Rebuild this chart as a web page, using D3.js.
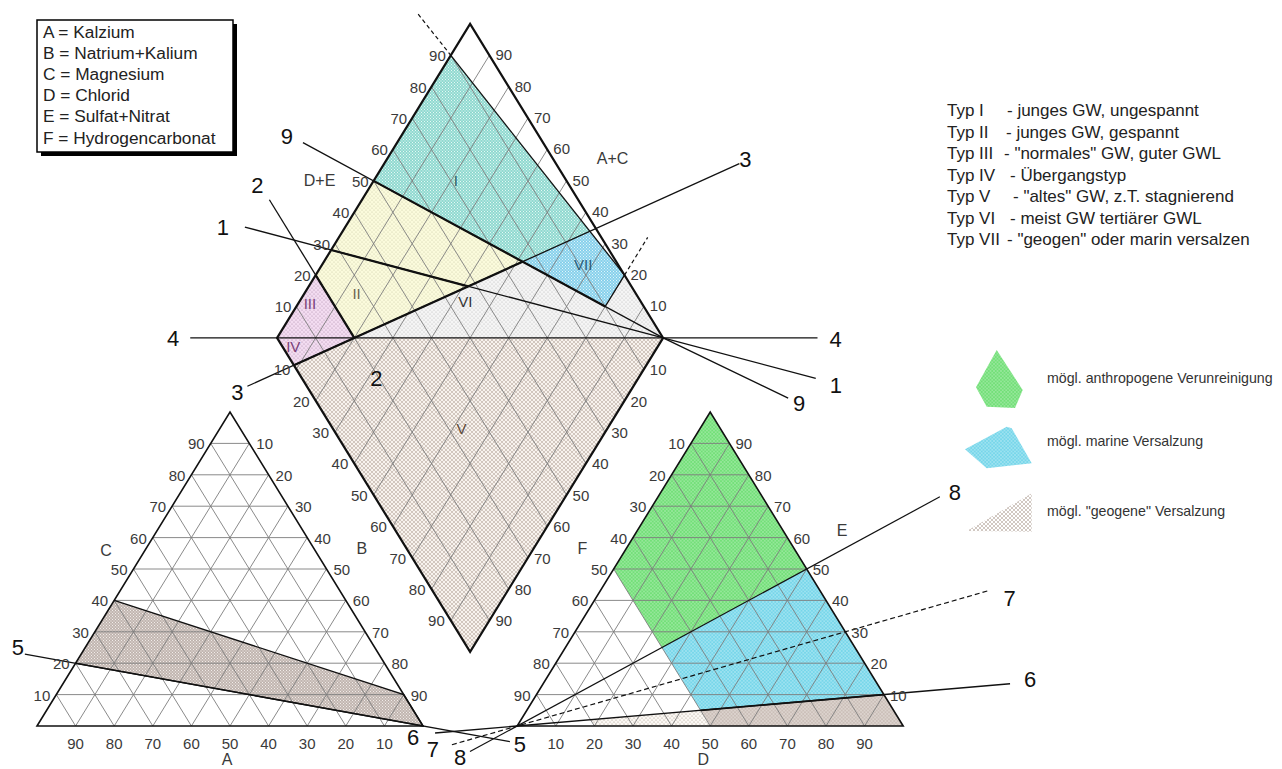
<!DOCTYPE html>
<html>
<head>
<meta charset="utf-8">
<script src="https://cdn.jsdelivr.net/npm/d3@7"></script>
<style>
  body { margin: 0; background: #fff; }
  svg { display: block; }
  text { font-family: "Liberation Sans", Arial, sans-serif; }
</style>
</head>
<body>
<svg id="chart" width="1282" height="769"></svg>
<script>
// ---------- data ----------
const ionNames = ["A = Kalzium", "B = Natrium+Kalium", "C = Magnesium", "D = Chlorid",
                  "E = Sulfat+Nitrat", "F = Hydrogencarbonat"];
const typeNames = ["Typ I", "Typ II", "Typ III", "Typ IV", "Typ V", "Typ VI", "Typ VII"];
const typeDescs = ["- junges GW, ungespannt", "- junges GW, gespannt", '- "normales" GW, guter GWL',
                   "- Übergangstyp", '- "altes" GW, z.T. stagnierend', "- meist GW tertiärer GWL",
                   '- "geogen" oder marin versalzen'];
const areaNames = ["mögl. anthropogene Verunreinigung", "mögl. marine Versalzung", 'mögl. "geogene" Versalzung'];
const ticks = d3.range(10, 100, 10);

// diamond fields, points as [Na+K %, Cl+SO4 %]
const fieldI   = [[0, 50], [0, 90], [64.05, 98], [51.47, 75.73]];
const fieldVII = [[51.47, 75.73], [64.05, 98], [80, 100], [80, 90]];
const fieldII  = [[0, 20], [0, 50], [51.47, 75.73], [20, 20]];
const fieldIII = [[0, 0], [0, 20], [20, 20]];
const fieldIV  = [[0, 0], [20, 20], [8.7, 0]];
const fieldVI  = [[20, 20], [51.47, 75.73], [80, 90], [80, 100], [100, 100]];
const fieldV   = [[8.7, 0], [100, 0], [100, 100], [20, 20]];
const fieldLabels = [["I", 21.3, 71.3], ["II", 13.5, 27.7], ["III", 3, 14], ["IV", 5.6, 2.8],
                     ["V", 62.2, 33.4], ["VI", 43, 54.5], ["VII", 67.7, 90.9]];

// diamond lines
const line1 = [[-26, 9.3], [100, 100], [146, 133.1]];
const line2 = [[-24, 20], [20, 20]];
const line3 = [[0, -15.4], [92, 147.5]];
const line4 = [[-22.5, -22.5], [140, 140]];
const line9 = [[-24.4, 37.8], [100, 100], [142, 122.8]];
const blueTop = [[0, 90], [80, 100]];
const blueTopExt = [[-15, 88.1], [0, 90]];
const sevenEdge = [[80, 90], [80, 100]];
const sevenEdgeExt = [[80, 100], [80, 112]];
const thickSegs = [[[0, 28], [41.3, 57.7]], [[0, 20], [20, 20]], [[8.7, 0], [51.47, 75.73]], [[0, 50], [80, 90]]];

// cation triangle [Ca, Mg, Na+K]
const bandCat = [[60, 40, 0], [0, 10, 90], [0, 0, 100], [80, 20, 0]];
const line5 = [[91.7, 22.9, -14.6], [-20, -5, 125]];

// anion triangle [HCO3, SO4+NO3, Cl]
const areaGreen = [[0, 100, 0], [0, 50, 50], [50, 25, 25], [50, 50, 0]];
const areaMarine = [[50, 25, 25], [0, 50, 50], [0, 10, 90], [50, 5, 45]];
const areaGeo = [[50, 5, 45], [0, 10, 90], [0, 0, 100], [50, 0, 50]];
const areaLight = [[80, 2, 18], [50, 5, 45], [50, 0, 50], [80, 0, 20]];
const line6 = [[122.4, -2.24, -20.16], [-34.4, 13.44, 120.96]];
const line7 = [[119.9, -5.97, -13.93], [-44, 43.2, 100.8]];
const line8 = [[116.3, -8.15, -8.15], [-46, 73, 73]];

// ---------- scales ----------
const svg = d3.select("#chart");
const x = d3.scaleLinear().domain([0, 224.4]).range([37, 903.2]);
const y = d3.scaleLinear().domain([0, 223.6]).range([726, 23.9]);
const GAP = 124.4, DX = 62.2, DY = 123.6;

const cat = ([ca, mg, na]) => [x(na + mg / 2), y(mg)];
const an = ([hc, so, cl]) => [x(GAP + cl + so / 2), y(so)];
const dia = ([n, s]) => [x(DX + (n + s) / 2), y(DY - n + s)];
const path = d3.line();

svg.append("rect").attr("width", 1282).attr("height", 769).attr("fill", "#fff");

// patterns
const defs = svg.append("defs");
function dots(id, bg, dot, step, r) {
  const p = defs.append("pattern").attr("id", id)
    .attr("patternUnits", "userSpaceOnUse").attr("width", step).attr("height", step);
  if (bg) p.append("rect").attr("width", step).attr("height", step).attr("fill", bg);
  [[0, 0], [step, 0], [0, step], [step, step], [step / 2, step / 2]].forEach(([cx, cy]) =>
    p.append("circle").attr("cx", cx).attr("cy", cy).attr("r", r).attr("fill", dot));
}
dots("pI", "#86d6cc", "#e6f8f5", 3, 0.65);
dots("pVII", "#7dcdea", "#e2f5fb", 3, 0.65);
dots("pII", "#fbfbdc", "#c9c7a6", 4, 0.6);
dots("pIII", "#f3dcf1", "#a98aa6", 4, 0.6);
dots("pVI", "#f5f5f5", "#b5b5b5", 4, 0.6);
dots("pV", "#f8f3ee", "#8c7566", 4, 0.65);
dots("pGreen", "#72df78", "#c2f2c4", 3.5, 0.7);
dots("pMarine", "#76d6ea", "#cff2f9", 3.5, 0.7);
dots("pGeo", "#bcb0aa", "#f1ece9", 3, 0.65);
dots("pGeoR", "#cbbfb8", "#f3eeeb", 3.5, 0.7);
dots("pLight", "#fbf8f4", "#a89888", 4, 0.6);
dots("pLegGeo", null, "#8c7566", 4, 0.75);

const fill = (g, pts, f, pat) => g.append("path")
  .attr("d", path(pts.map(f)) + "Z").attr("fill", `url(#${pat})`);

// ---------- fills ----------
const gFill = svg.append("g");
fill(gFill, fieldV, dia, "pV");
fill(gFill, fieldVI, dia, "pVI");
fill(gFill, fieldII, dia, "pII");
fill(gFill, fieldIII, dia, "pIII");
fill(gFill, fieldIV, dia, "pIII");
fill(gFill, fieldI, dia, "pI");
fill(gFill, fieldVII, dia, "pVII");
fill(gFill, bandCat, cat, "pGeo");
fill(gFill, areaGreen, an, "pGreen");
fill(gFill, areaMarine, an, "pMarine");
fill(gFill, areaGeo, an, "pGeoR");
fill(gFill, areaLight, an, "pLight");

// ---------- grid ----------
const gGrid = svg.append("g").attr("stroke", "#7d7d7d").attr("stroke-width", 0.9).attr("fill", "none");
const seg = (g, a, b) => g.append("path").attr("d", path([a, b]));
ticks.forEach(k => {
  seg(gGrid, cat([100 - k, k, 0]), cat([0, k, 100 - k]));
  seg(gGrid, cat([100 - k, 0, k]), cat([0, 100 - k, k]));
  seg(gGrid, cat([k, 0, 100 - k]), cat([k, 100 - k, 0]));
  seg(gGrid, an([100 - k, k, 0]), an([0, k, 100 - k]));
  seg(gGrid, an([100 - k, 0, k]), an([0, 100 - k, k]));
  seg(gGrid, an([k, 0, 100 - k]), an([k, 100 - k, 0]));
  seg(gGrid, dia([k, 0]), dia([k, 100]));
  seg(gGrid, dia([0, k]), dia([100, k]));
});

// ---------- outlines and region borders ----------
const gLine = svg.append("g").attr("fill", "none").attr("stroke", "#111");
gLine.append("path").attr("d", path([[100, 0, 0], [0, 100, 0], [0, 0, 100]].map(cat)) + "Z").attr("stroke-width", 1.6);
gLine.append("path").attr("d", path([[100, 0, 0], [0, 100, 0], [0, 0, 100]].map(an)) + "Z").attr("stroke-width", 1.6);
gLine.append("path").attr("d", path([[0, 0], [0, 100], [100, 100], [100, 0]].map(dia)) + "Z").attr("stroke-width", 2.2);

const drawLine = (pts, f, w, dash) => gLine.append("path").attr("d", path(pts.map(f)))
  .attr("stroke-width", w).attr("stroke-dasharray", dash || null);

thickSegs.forEach(s => drawLine(s, dia, 2.2));
drawLine(blueTop, dia, 1.3);
drawLine(blueTopExt, dia, 1.2, "4,3");
drawLine(sevenEdge, dia, 1.3);
drawLine(sevenEdgeExt, dia, 1.2, "4,3");
drawLine(bandCat, cat, 1.4);
[line1, line2, line3, line4, line9].forEach(l => drawLine(l, dia, 1.3));
drawLine(line5, cat, 1.3);
drawLine(line6, an, 1.4);
drawLine(line7, an, 1.2, "5,3");
drawLine(line8, an, 1.2);
drawLine(areaGeo.slice(0, 2), an, 1.8);

// ---------- tick labels ----------
const gTick = svg.append("g").attr("font-size", 15).attr("fill", "#3a3a3a");
const tick = (p, txt, dx, dy, anchor) => gTick.append("text")
  .attr("x", p[0] + dx).attr("y", p[1] + dy).attr("text-anchor", anchor).text(txt);
ticks.forEach(k => {
  // cation triangle
  tick(cat([k, 0, 100 - k]), k, 0, 23, "middle");
  tick(cat([100 - k, k, 0]), k, -6, 6, "end");
  tick(cat([0, 100 - k, k]), k, 7, 6, "start");
  // anion triangle
  tick(an([100 - k, 0, k]), k, 0, 23, "middle");
  tick(an([k, 100 - k, 0]), k, -6, 6, "end");
  tick(an([0, k, 100 - k]), k, 6, 6, "start");
  // diamond
  tick(dia([0, k]), k, -5, 6, "end");
  tick(dia([100 - k, 100]), k, 6, 5, "start");
  tick(dia([k, 0]), k, -6, 6, "end");
  tick(dia([100, 100 - k]), k, 6, 6, "start");
});

// axis names
const gName = svg.append("g").attr("font-size", 16).attr("fill", "#3a3a3a").attr("text-anchor", "middle");
const name = (p, txt, dx, dy) => gName.append("text")
  .attr("x", p[0] + dx).attr("y", p[1] + dy).attr("dy", "0.35em").text(txt);
name(cat([45, 55, 0]), "C", -37, -3);
name(cat([0, 55, 45]), "B", 45, -5);
name(cat([50, 0, 50]), "A", -3, 33);
name(an([45, 55, 0]), "F", -41, -5);
name(an([0, 55, 45]), "E", 45, -23);
name(an([50, 0, 50]), "D", -7, 33);
name(dia([0, 50]), "D+E", -54, 0);
name(dia([50, 100]), "A+C", 46, -22);

// field labels
const fieldColors = { I: "#2f5f66", II: "#6b6450", III: "#7a3f78", IV: "#7a3f78", V: "#5e4a3c", VI: "#333", VII: "#2b5d78" };
fieldLabels.forEach(([t, n, s]) => {
  const p = dia([n, s]);
  svg.append("text").attr("x", p[0]).attr("y", p[1]).attr("dy", "0.35em")
    .attr("text-anchor", "middle").attr("font-size", 15).attr("fill", fieldColors[t]).text(t);
});

// numbered line labels
const gNum = svg.append("g").attr("font-size", 22).attr("fill", "#111").attr("text-anchor", "middle");
const num = (p, txt, dx, dy) => gNum.append("text")
  .attr("x", p[0] + dx).attr("y", p[1] + dy).attr("dy", "0.35em").text(txt);
num(dia(line1[0]), "1", -22, 0);
num(dia(line1[2]), "1", 20, 7);
num(dia(line2[0]), "2", -12, -14);
num(dia(line2[1]), "2", 22, 40);
num(dia(line3[0]), "3", -10, 6);
num(dia(line3[1]), "3", 6, -4);
num(dia(line4[0]), "4", -17, 0);
num(dia(line4[1]), "4", 18, 1);
num(dia(line9[0]), "9", -16, -6);
num(dia(line9[2]), "9", 11, 5);
num(cat(line5[0]), "5", -7, -7);
num(cat(line5[1]), "5", 10, 3);
num(an(line6[0]), "6", -22, 4);
num(an(line6[1]), "6", 20, -4);
num(an(line7[0]), "7", -19, 5);
num(an(line7[1]), "7", 20, 8);
num(an(line8[0]), "8", -10, 6);
num(an(line8[1]), "8", 15, -4);

// ---------- ion legend box ----------
svg.append("rect").attr("x", 41).attr("y", 24).attr("width", 196).attr("height", 132).attr("fill", "#000");
svg.append("rect").attr("x", 37).attr("y", 20).attr("width", 196).attr("height", 132)
  .attr("fill", "#fff").attr("stroke", "#000").attr("stroke-width", 1.5);
svg.append("g").attr("font-size", 17.3).attr("fill", "#222")
  .selectAll("text").data(ionNames).join("text")
  .attr("x", 43).attr("y", (d, i) => 37.5 + i * 21.2).text(d => d);

// ---------- type legend ----------
const descX = [1007, 1006, 1004, 1010, 1013, 1010, 1007];
const gType = svg.append("g").attr("font-size", 17).attr("fill", "#222");
typeNames.forEach((t, i) => {
  const yy = 116 + i * 21.5;
  gType.append("text").attr("x", 947).attr("y", yy).text(t);
  gType.append("text").attr("x", descX[i]).attr("y", yy).text(typeDescs[i]);
});

// ---------- area legend ----------
const swatches = [
  { pat: "pGreen", pts: [[996.7, 350], [1022.7, 390], [1015, 408], [986.7, 406.7], [976, 387.3]] },
  { pat: "pMarine", pts: [[965, 449.3], [1006.7, 426.7], [1011.7, 428.3], [1031.7, 463.3], [986.7, 468.3]] },
  { pat: "pLegGeo", pts: [[966.7, 531], [1031.7, 493.3], [1031.7, 531.7]] }
];
const legY = [383, 446, 516];
swatches.forEach((s, i) => {
  svg.append("path").attr("d", path(s.pts) + "Z").attr("fill", `url(#${s.pat})`);
  svg.append("text").attr("x", 1047).attr("y", legY[i]).attr("font-size", 14.2)
    .attr("fill", "#333").text(areaNames[i]);
});
</script>
</body>
</html>
